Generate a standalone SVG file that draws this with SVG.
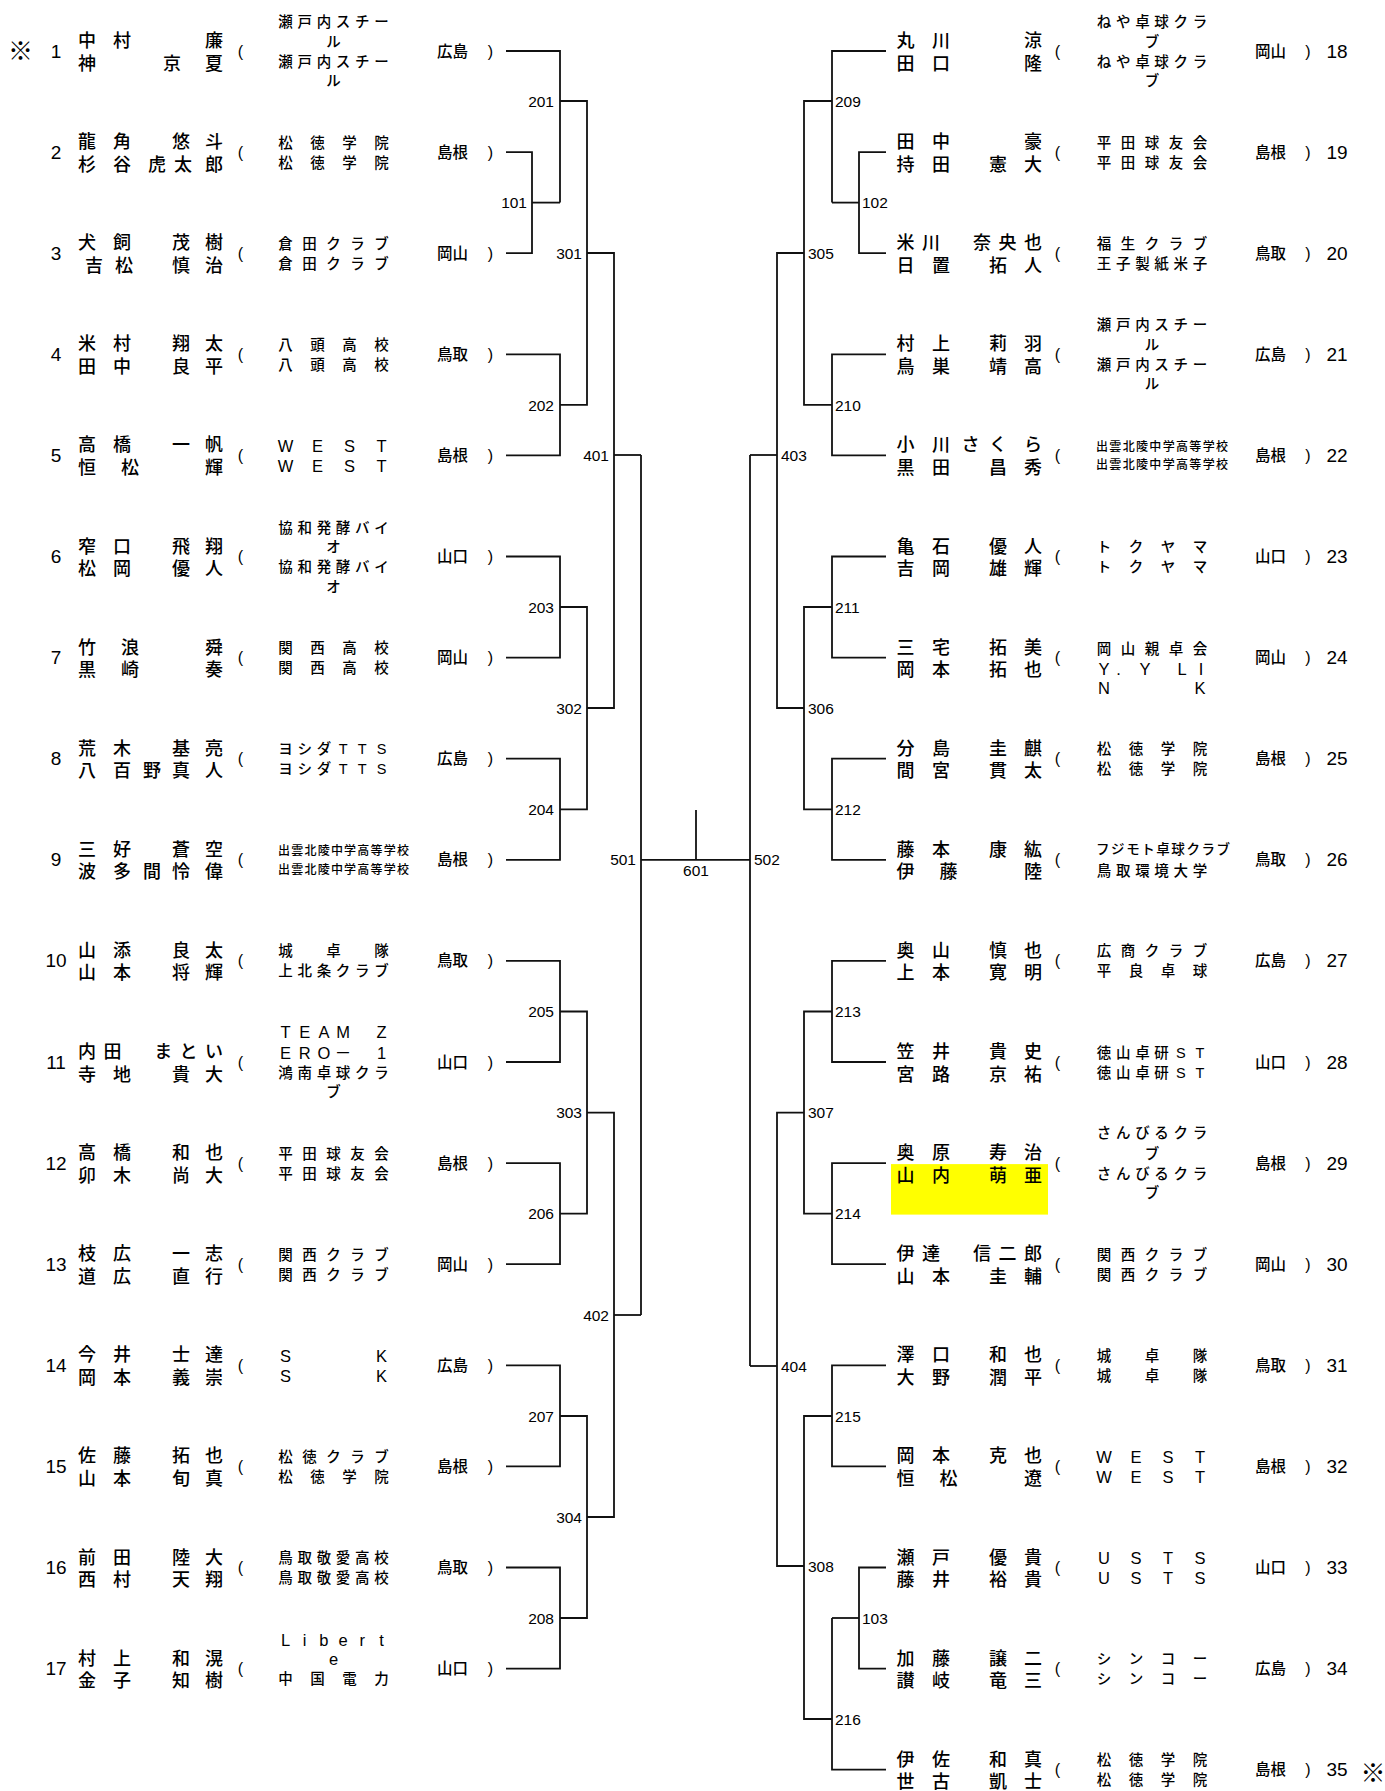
<svg xmlns="http://www.w3.org/2000/svg" width="1385" height="1791" viewBox="0 0 1385 1791">
<style>
text{font-family:"Liberation Sans","Noto Sans CJK JP",sans-serif;dominant-baseline:central;fill:#000}
.nm{font-size:18px;text-anchor:middle;font-weight:500}
.cl{font-size:14.5px;text-anchor:middle;font-weight:500}
.la{font-size:16.5px;text-anchor:middle}
.cs{font-size:12px;text-anchor:start;font-weight:500}
.cm{font-size:13.5px;text-anchor:start;font-weight:500}
.pf{font-size:15.5px;text-anchor:middle;font-weight:500}
.pa{font-size:16px;text-anchor:middle}
.no{font-family:"Liberation Sans Narrow","Liberation Sans",sans-serif;font-size:19px;text-anchor:middle}
.lb{font-family:"Liberation Sans Narrow","Liberation Sans",sans-serif;font-size:15.5px}
.le{text-anchor:end}
.ls{text-anchor:start}
.lm{text-anchor:middle}
.mk{font-family:"Noto Sans CJK JP",sans-serif;font-size:25px;text-anchor:middle}
.w{fill:none;stroke:#111;stroke-width:1.8}
</style>
<rect width="1385" height="1791" fill="#fff"/>
<g id="connectors" class="w">
<path d="M506 51H560V202.6"/>
<path d="M506 152.1H532V253.2H506"/>
<path d="M532 202.6H560"/>
<path d="M560 101H587V404.9H560"/>
<path d="M506 354.3H560V455.4H506"/>
<path d="M506 556.5H560V657.6H506"/>
<path d="M560 607H587V809.3H560"/>
<path d="M506 758.7H560V859.8H506"/>
<path d="M587 253H614V708H587"/>
<path d="M614 455H641"/>
<path d="M506 960.9H560V1062H506"/>
<path d="M560 1011.5H587V1213.7H560"/>
<path d="M506 1163.1H560V1264.2H506"/>
<path d="M587 1112.6H614V1517H587"/>
<path d="M506 1365.3H560V1466.4H506"/>
<path d="M560 1416H587V1618H560"/>
<path d="M506 1567.5H560V1668.6H506"/>
<path d="M614 1315H641"/>
<path d="M641 455V1315"/>
<path d="M641 859.8H750"/>
<path d="M696 810V859.8"/>
<path d="M886 51H832V202.6"/>
<path d="M886 152.1H859V253.2H886"/>
<path d="M859 202.6H832"/>
<path d="M832 101H804V404.9H832"/>
<path d="M886 354.3H832V455.4H886"/>
<path d="M804 253H777V708H804"/>
<path d="M886 556.5H832V657.6H886"/>
<path d="M832 607H804V809.3H832"/>
<path d="M886 758.7H832V859.8H886"/>
<path d="M777 455H750"/>
<path d="M886 960.9H832V1062H886"/>
<path d="M832 1011.5H804V1213.7H832"/>
<path d="M886 1163.1H832V1264.2H886"/>
<path d="M804 1112.6H777V1566H804"/>
<path d="M886 1365.3H832V1466.4H886"/>
<path d="M832 1416H804V1719H832"/>
<path d="M886 1567.5H859V1668.6H886"/>
<path d="M859 1618H832"/>
<path d="M832 1618V1769.7H886"/>
<path d="M777 1366H750"/>
<path d="M750 455V1366"/>
</g>
<g id="match-labels" class="lb">
<text class="le" x="527" y="202.6">101</text>
<text class="le" x="554" y="101">201</text>
<text class="le" x="554" y="405">202</text>
<text class="le" x="554" y="607">203</text>
<text class="le" x="554" y="809.3">204</text>
<text class="le" x="554" y="1011.5">205</text>
<text class="le" x="554" y="1213.7">206</text>
<text class="le" x="554" y="1416">207</text>
<text class="le" x="554" y="1618">208</text>
<text class="le" x="582" y="253">301</text>
<text class="le" x="582" y="708">302</text>
<text class="le" x="582" y="1112.6">303</text>
<text class="le" x="582" y="1517">304</text>
<text class="le" x="609" y="455">401</text>
<text class="le" x="609" y="1315">402</text>
<text class="le" x="636" y="859.8">501</text>
<text class="lm" x="696" y="870">601</text>
<text class="ls" x="754" y="859.8">502</text>
<text class="ls" x="781" y="455">403</text>
<text class="ls" x="781" y="1366">404</text>
<text class="ls" x="808" y="253">305</text>
<text class="ls" x="808" y="708">306</text>
<text class="ls" x="808" y="1112.6">307</text>
<text class="ls" x="808" y="1566">308</text>
<text class="ls" x="835" y="101">209</text>
<text class="ls" x="835" y="405">210</text>
<text class="ls" x="835" y="607">211</text>
<text class="ls" x="835" y="809.3">212</text>
<text class="ls" x="835" y="1011.5">213</text>
<text class="ls" x="835" y="1213.7">214</text>
<text class="ls" x="835" y="1416">215</text>
<text class="ls" x="835" y="1719">216</text>
<text class="ls" x="862" y="202.6">102</text>
<text class="ls" x="862" y="1618">103</text>
</g>

<g id="p1" transform="translate(0 51)">
<text class="mk" x="20.5" y="-2">※</text>
<text class="no" x="56">1</text>
<text class="nm" x="87 122 214" y="-10">中村廉</text>
<text class="nm" x="87 172 214" y="12.5">神京夏</text>
<text class="pa" x="240.5">(</text>
<text class="cl" x="285.5 304.7 323.9 343.1 362.3 381.5" y="-29">瀬戸内スチー</text>
<text class="cl" x="333.5" y="-9.5">ル</text>
<text class="cl" x="285.5 304.7 323.9 343.1 362.3 381.5" y="10.5">瀬戸内スチー</text>
<text class="cl" x="333.5" y="30">ル</text>
<text class="pf" x="452.5">広島</text>
<text class="pa" x="490.5">)</text>
</g>
<g id="p2" transform="translate(0 152.1)">
<text class="no" x="56">2</text>
<text class="nm" x="87 122 181 214" y="-10">龍角悠斗</text>
<text class="nm" x="87 122 157 183 214" y="12.5">杉谷虎太郎</text>
<text class="pa" x="240.5">(</text>
<text class="cl" x="285.5 317.5 349.5 381.5" y="-9.5">松徳学院</text>
<text class="cl" x="285.5 317.5 349.5 381.5" y="10.5">松徳学院</text>
<text class="pf" x="452.5">島根</text>
<text class="pa" x="490.5">)</text>
</g>
<g id="p3" transform="translate(0 253.2)">
<text class="no" x="56">3</text>
<text class="nm" x="87 122 181 214" y="-10">犬飼茂樹</text>
<text class="nm" x="94 124 181 214" y="12.5">吉松慎治</text>
<text class="pa" x="240.5">(</text>
<text class="cl" x="285.5 309.5 333.5 357.5 381.5" y="-9.5">倉田クラブ</text>
<text class="cl" x="285.5 309.5 333.5 357.5 381.5" y="10.5">倉田クラブ</text>
<text class="pf" x="452.5">岡山</text>
<text class="pa" x="490.5">)</text>
</g>
<g id="p4" transform="translate(0 354.3)">
<text class="no" x="56">4</text>
<text class="nm" x="87 122 181 214" y="-10">米村翔太</text>
<text class="nm" x="87 122 181 214" y="12.5">田中良平</text>
<text class="pa" x="240.5">(</text>
<text class="cl" x="285.5 317.5 349.5 381.5" y="-9.5">八頭高校</text>
<text class="cl" x="285.5 317.5 349.5 381.5" y="10.5">八頭高校</text>
<text class="pf" x="452.5">鳥取</text>
<text class="pa" x="490.5">)</text>
</g>
<g id="p5" transform="translate(0 455.4)">
<text class="no" x="56">5</text>
<text class="nm" x="87 122 181 214" y="-10">高橋一帆</text>
<text class="nm" x="87 130 214" y="12.5">恒松輝</text>
<text class="pa" x="240.5">(</text>
<text class="la" x="285.5 317.5 349.5 381.5" y="-9.5">WEST</text>
<text class="la" x="285.5 317.5 349.5 381.5" y="10.5">WEST</text>
<text class="pf" x="452.5">島根</text>
<text class="pa" x="490.5">)</text>
</g>
<g id="p6" transform="translate(0 556.5)">
<text class="no" x="56">6</text>
<text class="nm" x="87 122 181 214" y="-10">窄口飛翔</text>
<text class="nm" x="87 122 181 214" y="12.5">松岡優人</text>
<text class="pa" x="240.5">(</text>
<text class="cl" x="285.5 304.7 323.9 343.1 362.3 381.5" y="-29">協和発酵バイ</text>
<text class="cl" x="333.5" y="-9.5">オ</text>
<text class="cl" x="285.5 304.7 323.9 343.1 362.3 381.5" y="10.5">協和発酵バイ</text>
<text class="cl" x="333.5" y="30">オ</text>
<text class="pf" x="452.5">山口</text>
<text class="pa" x="490.5">)</text>
</g>
<g id="p7" transform="translate(0 657.6)">
<text class="no" x="56">7</text>
<text class="nm" x="87 130 214" y="-10">竹浪舜</text>
<text class="nm" x="87 130 214" y="12.5">黒崎奏</text>
<text class="pa" x="240.5">(</text>
<text class="cl" x="285.5 317.5 349.5 381.5" y="-9.5">関西高校</text>
<text class="cl" x="285.5 317.5 349.5 381.5" y="10.5">関西高校</text>
<text class="pf" x="452.5">岡山</text>
<text class="pa" x="490.5">)</text>
</g>
<g id="p8" transform="translate(0 758.7)">
<text class="no" x="56">8</text>
<text class="nm" x="87 122 181 214" y="-10">荒木基亮</text>
<text class="nm" x="87 122 152 181 214" y="12.5">八百野真人</text>
<text class="pa" x="240.5">(</text>
<text class="cl" x="285.5 304.7 323.9 343.1 362.3 381.5" y="-9.5">ヨシダTTS</text>
<text class="cl" x="285.5 304.7 323.9 343.1 362.3 381.5" y="10.5">ヨシダTTS</text>
<text class="pf" x="452.5">広島</text>
<text class="pa" x="490.5">)</text>
</g>
<g id="p9" transform="translate(0 859.8)">
<text class="no" x="56">9</text>
<text class="nm" x="87 122 181 214" y="-10">三好蒼空</text>
<text class="nm" x="87 122 152 181 214" y="12.5">波多間怜偉</text>
<text class="pa" x="240.5">(</text>
<text class="cs" x="278" y="-8.7" textLength="131" lengthAdjust="spacing">出雲北陵中学高等学校</text>
<text class="cs" x="278" y="10.5" textLength="131" lengthAdjust="spacing">出雲北陵中学高等学校</text>
<text class="pf" x="452.5">島根</text>
<text class="pa" x="490.5">)</text>
</g>
<g id="p10" transform="translate(0 960.9)">
<text class="no" x="56">10</text>
<text class="nm" x="87 122 181 214" y="-10">山添良太</text>
<text class="nm" x="87 122 181 214" y="12.5">山本将輝</text>
<text class="pa" x="240.5">(</text>
<text class="cl" x="285.5 333.5 381.5" y="-9.5">城卓隊</text>
<text class="cl" x="285.5 304.7 323.9 343.1 362.3 381.5" y="10.5">上北条クラブ</text>
<text class="pf" x="452.5">鳥取</text>
<text class="pa" x="490.5">)</text>
</g>
<g id="p11" transform="translate(0 1062)">
<text class="no" x="56">11</text>
<text class="nm" x="87 112.4 163.2 188.6 214" y="-10">内田まとい</text>
<text class="nm" x="87 122 181 214" y="12.5">寺地貴大</text>
<text class="pa" x="240.5">(</text>
<text class="la" x="285.5 304.7 323.9 343.1 381.5" y="-30">TEAMZ</text>
<text class="la" x="285.5 304.7 323.9 343.1 381.5" y="-9.5">ERO－1</text>
<text class="cl" x="285.5 304.7 323.9 343.1 362.3 381.5" y="10.5">鴻南卓球クラ</text>
<text class="cl" x="333.5" y="30">ブ</text>
<text class="pf" x="452.5">山口</text>
<text class="pa" x="490.5">)</text>
</g>
<g id="p12" transform="translate(0 1163.1)">
<text class="no" x="56">12</text>
<text class="nm" x="87 122 181 214" y="-10">高橋和也</text>
<text class="nm" x="87 122 181 214" y="12.5">卯木尚大</text>
<text class="pa" x="240.5">(</text>
<text class="cl" x="285.5 309.5 333.5 357.5 381.5" y="-9.5">平田球友会</text>
<text class="cl" x="285.5 309.5 333.5 357.5 381.5" y="10.5">平田球友会</text>
<text class="pf" x="452.5">島根</text>
<text class="pa" x="490.5">)</text>
</g>
<g id="p13" transform="translate(0 1264.2)">
<text class="no" x="56">13</text>
<text class="nm" x="87 122 181 214" y="-10">枝広一志</text>
<text class="nm" x="87 122 181 214" y="12.5">道広直行</text>
<text class="pa" x="240.5">(</text>
<text class="cl" x="285.5 309.5 333.5 357.5 381.5" y="-9.5">関西クラブ</text>
<text class="cl" x="285.5 309.5 333.5 357.5 381.5" y="10.5">関西クラブ</text>
<text class="pf" x="452.5">岡山</text>
<text class="pa" x="490.5">)</text>
</g>
<g id="p14" transform="translate(0 1365.3)">
<text class="no" x="56">14</text>
<text class="nm" x="87 122 181 214" y="-10">今井士達</text>
<text class="nm" x="87 122 181 214" y="12.5">岡本義崇</text>
<text class="pa" x="240.5">(</text>
<text class="la" x="285.5 381.5" y="-9.5">SK</text>
<text class="la" x="285.5 381.5" y="10.5">SK</text>
<text class="pf" x="452.5">広島</text>
<text class="pa" x="490.5">)</text>
</g>
<g id="p15" transform="translate(0 1466.4)">
<text class="no" x="56">15</text>
<text class="nm" x="87 122 181 214" y="-10">佐藤拓也</text>
<text class="nm" x="87 122 181 214" y="12.5">山本旬真</text>
<text class="pa" x="240.5">(</text>
<text class="cl" x="285.5 309.5 333.5 357.5 381.5" y="-9.5">松徳クラブ</text>
<text class="cl" x="285.5 317.5 349.5 381.5" y="10.5">松徳学院</text>
<text class="pf" x="452.5">島根</text>
<text class="pa" x="490.5">)</text>
</g>
<g id="p16" transform="translate(0 1567.5)">
<text class="no" x="56">16</text>
<text class="nm" x="87 122 181 214" y="-10">前田陸大</text>
<text class="nm" x="87 122 181 214" y="12.5">西村天翔</text>
<text class="pa" x="240.5">(</text>
<text class="cl" x="285.5 304.7 323.9 343.1 362.3 381.5" y="-9.5">鳥取敬愛高校</text>
<text class="cl" x="285.5 304.7 323.9 343.1 362.3 381.5" y="10.5">鳥取敬愛高校</text>
<text class="pf" x="452.5">鳥取</text>
<text class="pa" x="490.5">)</text>
</g>
<g id="p17" transform="translate(0 1668.6)">
<text class="no" x="56">17</text>
<text class="nm" x="87 122 181 214" y="-10">村上和滉</text>
<text class="nm" x="87 122 181 214" y="12.5">金子知樹</text>
<text class="pa" x="240.5">(</text>
<text class="la" x="285.5 304.7 323.9 343.1 362.3 381.5" y="-29">Libert</text>
<text class="la" x="333.5" y="-9.5">e</text>
<text class="cl" x="285.5 317.5 349.5 381.5" y="10.5">中国電力</text>
<text class="pf" x="452.5">山口</text>
<text class="pa" x="490.5">)</text>
</g>

<g id="p18" transform="translate(0 51)">
<text class="nm" x="905.5 941 1033" y="-10">丸川涼</text>
<text class="nm" x="905.5 941 1033" y="12.5">田口隆</text>
<text class="pa" x="1057.5">(</text>
<text class="cl" x="1104 1123.2 1142.4 1161.6 1180.8 1200" y="-29">ねや卓球クラ</text>
<text class="cl" x="1152" y="-9.5">ブ</text>
<text class="cl" x="1104 1123.2 1142.4 1161.6 1180.8 1200" y="10.5">ねや卓球クラ</text>
<text class="cl" x="1152" y="30">ブ</text>
<text class="pf" x="1270.5">岡山</text>
<text class="pa" x="1308">)</text>
<text class="no" x="1337">18</text>
</g>
<g id="p19" transform="translate(0 152.1)">
<text class="nm" x="905.5 941 1033" y="-10">田中豪</text>
<text class="nm" x="905.5 941 998 1033" y="12.5">持田憲大</text>
<text class="pa" x="1057.5">(</text>
<text class="cl" x="1104 1128 1152 1176 1200" y="-9.5">平田球友会</text>
<text class="cl" x="1104 1128 1152 1176 1200" y="10.5">平田球友会</text>
<text class="pf" x="1270.5">島根</text>
<text class="pa" x="1308">)</text>
<text class="no" x="1337">19</text>
</g>
<g id="p20" transform="translate(0 253.2)">
<text class="nm" x="905.5 931 982 1007.5 1033" y="-10">米川奈央也</text>
<text class="nm" x="905.5 941 998 1033" y="12.5">日置拓人</text>
<text class="pa" x="1057.5">(</text>
<text class="cl" x="1104 1128 1152 1176 1200" y="-9.5">福生クラブ</text>
<text class="cl" x="1104 1123.2 1142.4 1161.6 1180.8 1200" y="10.5">王子製紙米子</text>
<text class="pf" x="1270.5">鳥取</text>
<text class="pa" x="1308">)</text>
<text class="no" x="1337">20</text>
</g>
<g id="p21" transform="translate(0 354.3)">
<text class="nm" x="905.5 941 998 1033" y="-10">村上莉羽</text>
<text class="nm" x="905.5 941 998 1033" y="12.5">鳥巣靖高</text>
<text class="pa" x="1057.5">(</text>
<text class="cl" x="1104 1123.2 1142.4 1161.6 1180.8 1200" y="-29">瀬戸内スチー</text>
<text class="cl" x="1152" y="-9.5">ル</text>
<text class="cl" x="1104 1123.2 1142.4 1161.6 1180.8 1200" y="10.5">瀬戸内スチー</text>
<text class="cl" x="1152" y="30">ル</text>
<text class="pf" x="1270.5">広島</text>
<text class="pa" x="1308">)</text>
<text class="no" x="1337">21</text>
</g>
<g id="p22" transform="translate(0 455.4)">
<text class="nm" x="905.5 941 970.5 998 1033" y="-10">小川さくら</text>
<text class="nm" x="905.5 941 998 1033" y="12.5">黒田昌秀</text>
<text class="pa" x="1057.5">(</text>
<text class="cs" x="1096" y="-8.7" textLength="132" lengthAdjust="spacing">出雲北陵中学高等学校</text>
<text class="cs" x="1096" y="10" textLength="132" lengthAdjust="spacing">出雲北陵中学高等学校</text>
<text class="pf" x="1270.5">島根</text>
<text class="pa" x="1308">)</text>
<text class="no" x="1337">22</text>
</g>
<g id="p23" transform="translate(0 556.5)">
<text class="nm" x="905.5 941 998 1033" y="-10">亀石優人</text>
<text class="nm" x="905.5 941 998 1033" y="12.5">吉岡雄輝</text>
<text class="pa" x="1057.5">(</text>
<text class="cl" x="1104 1136 1168 1200" y="-9.5">トクヤマ</text>
<text class="cl" x="1104 1136 1168 1200" y="10.5">トクヤマ</text>
<text class="pf" x="1270.5">山口</text>
<text class="pa" x="1308">)</text>
<text class="no" x="1337">23</text>
</g>
<g id="p24" transform="translate(0 657.6)">
<text class="nm" x="905.5 941 998 1033" y="-10">三宅拓美</text>
<text class="nm" x="905.5 941 998 1033" y="12.5">岡本拓也</text>
<text class="pa" x="1057.5">(</text>
<text class="cl" x="1104 1128 1152 1176 1200" y="-9">岡山親卓会</text>
<text class="la" x="1104 1118.5 1145 1182 1201" y="11.4">Y.YLI</text>
<text class="la" x="1104 1200" y="30.6">NK</text>
<text class="pf" x="1270.5">岡山</text>
<text class="pa" x="1308">)</text>
<text class="no" x="1337">24</text>
</g>
<g id="p25" transform="translate(0 758.7)">
<text class="nm" x="905.5 941 998 1033" y="-10">分島圭麒</text>
<text class="nm" x="905.5 941 998 1033" y="12.5">間宮貫太</text>
<text class="pa" x="1057.5">(</text>
<text class="cl" x="1104 1136 1168 1200" y="-9.5">松徳学院</text>
<text class="cl" x="1104 1136 1168 1200" y="10.5">松徳学院</text>
<text class="pf" x="1270.5">島根</text>
<text class="pa" x="1308">)</text>
<text class="no" x="1337">25</text>
</g>
<g id="p26" transform="translate(0 859.8)">
<text class="nm" x="905.5 941 998 1033" y="-10">藤本康紘</text>
<text class="nm" x="905.5 948.5 1033" y="12.5">伊藤陸</text>
<text class="pa" x="1057.5">(</text>
<text class="cm" x="1096" y="-10" textLength="134" lengthAdjust="spacing">フジモト卓球クラブ</text>
<text class="cl" x="1104 1123.2 1142.4 1161.6 1180.8 1200" y="11">鳥取環境大学</text>
<text class="pf" x="1270.5">鳥取</text>
<text class="pa" x="1308">)</text>
<text class="no" x="1337">26</text>
</g>
<g id="p27" transform="translate(0 960.9)">
<text class="nm" x="905.5 941 998 1033" y="-10">奥山慎也</text>
<text class="nm" x="905.5 941 998 1033" y="12.5">上本寛明</text>
<text class="pa" x="1057.5">(</text>
<text class="cl" x="1104 1128 1152 1176 1200" y="-9.5">広商クラブ</text>
<text class="cl" x="1104 1136 1168 1200" y="10.5">平良卓球</text>
<text class="pf" x="1270.5">広島</text>
<text class="pa" x="1308">)</text>
<text class="no" x="1337">27</text>
</g>
<g id="p28" transform="translate(0 1062)">
<text class="nm" x="905.5 941 998 1033" y="-10">笠井貴史</text>
<text class="nm" x="905.5 941 998 1033" y="12.5">宮路京祐</text>
<text class="pa" x="1057.5">(</text>
<text class="cl" x="1104 1123.2 1142.4 1161.6 1180.8 1200" y="-9.5">徳山卓研ST</text>
<text class="cl" x="1104 1123.2 1142.4 1161.6 1180.8 1200" y="10.5">徳山卓研ST</text>
<text class="pf" x="1270.5">山口</text>
<text class="pa" x="1308">)</text>
<text class="no" x="1337">28</text>
</g>
<g id="p29" transform="translate(0 1163.1)">
<rect x="891" y="1" width="157" height="50.5" fill="#ffff00"/>
<text class="nm" x="905.5 941 998 1033" y="-10">奥原寿治</text>
<text class="nm" x="905.5 941 998 1033" y="12.5">山内萌亜</text>
<text class="pa" x="1057.5">(</text>
<text class="cl" x="1104 1123.2 1142.4 1161.6 1180.8 1200" y="-30">さんびるクラ</text>
<text class="cl" x="1152" y="-9.5">ブ</text>
<text class="cl" x="1104 1123.2 1142.4 1161.6 1180.8 1200" y="11">さんびるクラ</text>
<text class="cl" x="1152" y="30">ブ</text>
<text class="pf" x="1270.5">島根</text>
<text class="pa" x="1308">)</text>
<text class="no" x="1337">29</text>
</g>
<g id="p30" transform="translate(0 1264.2)">
<text class="nm" x="905.5 931 982 1007.5 1033" y="-10">伊達信二郎</text>
<text class="nm" x="905.5 941 998 1033" y="12.5">山本圭輔</text>
<text class="pa" x="1057.5">(</text>
<text class="cl" x="1104 1128 1152 1176 1200" y="-9.5">関西クラブ</text>
<text class="cl" x="1104 1128 1152 1176 1200" y="10.5">関西クラブ</text>
<text class="pf" x="1270.5">岡山</text>
<text class="pa" x="1308">)</text>
<text class="no" x="1337">30</text>
</g>
<g id="p31" transform="translate(0 1365.3)">
<text class="nm" x="905.5 941 998 1033" y="-10">澤口和也</text>
<text class="nm" x="905.5 941 998 1033" y="12.5">大野潤平</text>
<text class="pa" x="1057.5">(</text>
<text class="cl" x="1104 1152 1200" y="-9.5">城卓隊</text>
<text class="cl" x="1104 1152 1200" y="10.5">城卓隊</text>
<text class="pf" x="1270.5">鳥取</text>
<text class="pa" x="1308">)</text>
<text class="no" x="1337">31</text>
</g>
<g id="p32" transform="translate(0 1466.4)">
<text class="nm" x="905.5 941 998 1033" y="-10">岡本克也</text>
<text class="nm" x="905.5 948.5 1033" y="12.5">恒松遼</text>
<text class="pa" x="1057.5">(</text>
<text class="la" x="1104 1136 1168 1200" y="-9.5">WEST</text>
<text class="la" x="1104 1136 1168 1200" y="10.5">WEST</text>
<text class="pf" x="1270.5">島根</text>
<text class="pa" x="1308">)</text>
<text class="no" x="1337">32</text>
</g>
<g id="p33" transform="translate(0 1567.5)">
<text class="nm" x="905.5 941 998 1033" y="-10">瀬戸優貴</text>
<text class="nm" x="905.5 941 998 1033" y="12.5">藤井裕貴</text>
<text class="pa" x="1057.5">(</text>
<text class="la" x="1104 1136 1168 1200" y="-9.5">USTS</text>
<text class="la" x="1104 1136 1168 1200" y="10.5">USTS</text>
<text class="pf" x="1270.5">山口</text>
<text class="pa" x="1308">)</text>
<text class="no" x="1337">33</text>
</g>
<g id="p34" transform="translate(0 1668.6)">
<text class="nm" x="905.5 941 998 1033" y="-10">加藤譲二</text>
<text class="nm" x="905.5 941 998 1033" y="12.5">讃岐竜三</text>
<text class="pa" x="1057.5">(</text>
<text class="cl" x="1104 1136 1168 1200" y="-9.5">シンコー</text>
<text class="cl" x="1104 1136 1168 1200" y="10.5">シンコー</text>
<text class="pf" x="1270.5">広島</text>
<text class="pa" x="1308">)</text>
<text class="no" x="1337">34</text>
</g>
<g id="p35" transform="translate(0 1769.7)">
<text class="nm" x="905.5 941 998 1033" y="-10">伊佐和真</text>
<text class="nm" x="905.5 941 998 1033" y="12.5">世古凱士</text>
<text class="pa" x="1057.5">(</text>
<text class="cl" x="1104 1136 1168 1200" y="-9.5">松徳学院</text>
<text class="cl" x="1104 1136 1168 1200" y="10.5">松徳学院</text>
<text class="pf" x="1270.5">島根</text>
<text class="pa" x="1308">)</text>
<text class="no" x="1337">35</text>
<text class="mk" x="1373" y="1">※</text>
</g>
</svg>
